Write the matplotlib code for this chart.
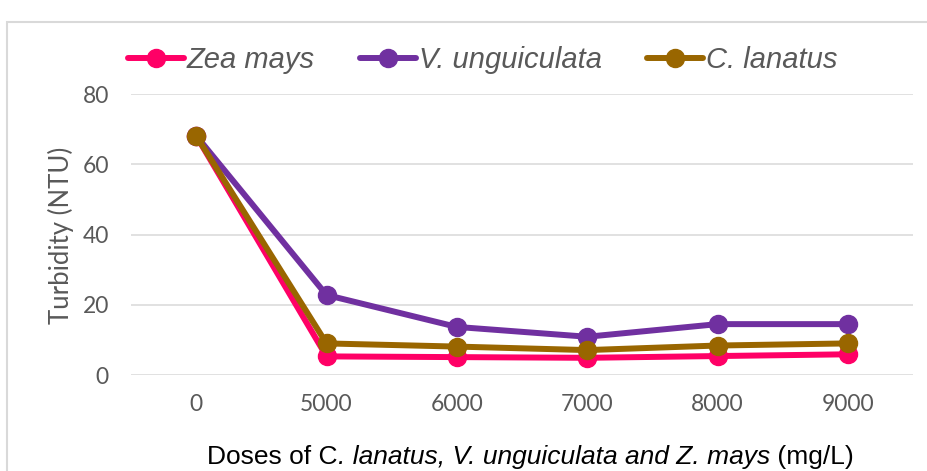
import matplotlib
matplotlib.use("Agg")
import matplotlib.pyplot as plt
from matplotlib.patches import Rectangle
from matplotlib.transforms import offset_copy

doses = ["0", "5000", "6000", "7000", "8000", "9000"]
zea_mays = [68.2, 5.3, 5.1, 4.9, 5.4, 5.9]
v_unguiculata = [68.2, 22.8, 13.7, 10.9, 14.5, 14.5]
c_lanatus = [68.2, 9.0, 8.1, 7.1, 8.4, 9.0]

# x-axis title pieces: (text, italic?)
xlabel_parts = [
    ("Doses of C", False),
    (". lanatus, V. unguiculata and Z. mays", True),
    (" (mg/L)", False),
]

W, H = 927, 471
fig = plt.figure(figsize=(W / 100, H / 100), dpi=100)
ax = fig.add_axes([131 / W, 1 - 375 / H, (913 - 131) / W, (375 - 94.3) / H])

x = range(len(doses))
series = [
    ("Zea mays", zea_mays, "#FF0066"),
    ("V. unguiculata", v_unguiculata, "#7030A0"),
    ("C. lanatus", c_lanatus, "#996600"),
]
for name, vals, col in series:
    ax.plot(x, vals, color=col, lw=4.3, marker="o", ms=13, label=name,
            solid_capstyle="round")

ax.set_xlim(-0.5, len(doses) - 0.5)
ax.set_ylim(0, 80)
ax.set_yticks([0, 20, 40, 60, 80])
ax.set_xticks(list(x))
ax.set_xticklabels(doses)
ax.grid(axis="y", color="#d9d9d9", lw=1.1)
ax.set_axisbelow(True)
for s in ax.spines.values():
    s.set_visible(False)
ax.tick_params(length=0, labelsize=16.5, labelcolor="#595959")
ax.tick_params(axis="y", pad=16)
ax.tick_params(axis="x", pad=14)
for lab in ax.get_xticklabels() + ax.get_yticklabels():
    lab.set_family("Lato")

fig.text(61 / W, 1 - 235 / H, "Turbidity (NTU)", rotation=90, ha="center",
         va="center", fontsize=18.5, family="Lato", color="#595959")

# x-axis title built from roman / italic pieces laid side by side
renderer = fig.canvas.get_renderer()
trans = fig.transFigure
xpos = 207 / W
t = None
for txt, it in xlabel_parts:
    if t is None:
        t = fig.text(xpos, 1 - 464 / H, txt, ha="left", va="baseline",
                     fontsize=19, family="Liberation Sans",
                     style="italic" if it else "normal", color="black")
    else:
        bb = t.get_window_extent(renderer)
        t = fig.text(bb.x1 / (W), 1 - 464 / H, txt, ha="left", va="baseline",
                     fontsize=19, family="Liberation Sans",
                     style="italic" if it else "normal", color="black")

fig.legend(loc="center", bbox_to_anchor=(483 / W, 1 - 60 / H), ncol=3,
           frameon=False, handlelength=1.9, handletextpad=0.12,
           columnspacing=1.55,
           prop={"family": "Liberation Sans", "style": "italic", "size": 21},
           labelcolor="#595959")

fig.add_artist(Rectangle((7.5 / W, -0.05), (W - 4) / W, 1.05 - 22 / H,
                         transform=fig.transFigure, fill=False,
                         edgecolor="#d9d9d9", lw=1.5))

fig.savefig("out.png", dpi=100)
